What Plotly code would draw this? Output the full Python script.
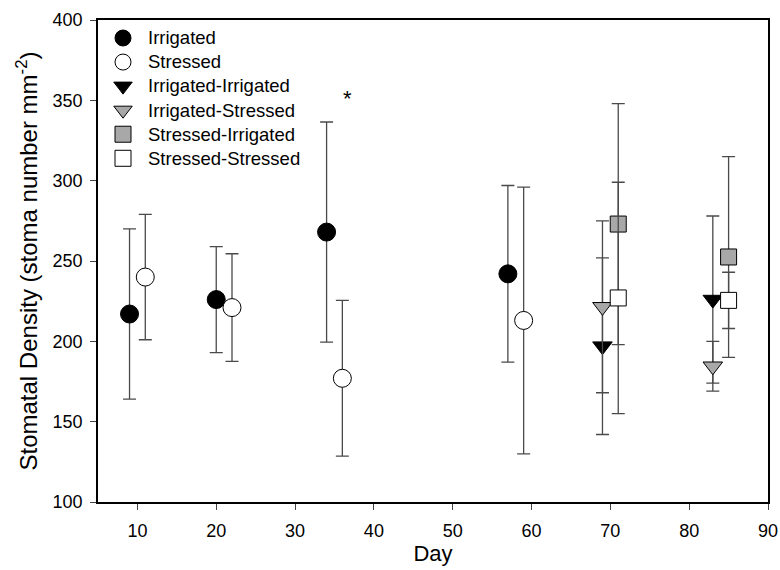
import plotly.graph_objects as go

series_names = ["Irrigated", "Stressed", "Irrigated-Irrigated", "Irrigated-Stressed",
                "Stressed-Irrigated", "Stressed-Stressed"]
irr_day = [9, 20, 34, 57]
irr_val = [217, 226, 268, 242]
irr_err = [53, 33, 68.5, 55]
str_day = [11, 22, 36, 59]
str_val = [240, 221, 177, 213]
str_err = [39, 33.5, 48.5, 83]
ii_day = [69, 83]
ii_val = [197, 226]
ii_err = [55, 52]
is_day = [69, 83]
is_val = [221.5, 184.5]
is_err = [53.5, 15.5]
si_day = [71, 85]
si_val = [273, 252.5]
si_err = [75, 62.5]
ss_day = [71, 85]
ss_val = [227, 225.5]
ss_err = [72, 17.5]

x_ticks = [10, 20, 30, 40, 50, 60, 70, 80, 90]
y_ticks = [100, 150, 200, 250, 300, 350, 400]

specs = [
    (irr_day, irr_val, irr_err, "circle", "black", 18),
    (str_day, str_val, str_err, "circle", "white", 18),
    (ii_day, ii_val, ii_err, "triangle-down", "black", 17),
    (is_day, is_val, is_err, "triangle-down", "#a8a8a8", 17),
    (si_day, si_val, si_err, "square", "#a8a8a8", 16),
    (ss_day, ss_val, ss_err, "square", "white", 16),
]

FONT = "Liberation Sans, Arial, Helvetica, sans-serif"

fig = go.Figure()
for name, (xs, ys, es, sym, col, sz) in zip(series_names, specs):
    fig.add_trace(go.Scatter(
        x=xs, y=ys, mode="markers",
        name=f"<span style='font-size:18.5px'>{name}</span>",
        marker=dict(symbol=sym, color=col, size=sz, line=dict(color="black", width=1)),
        error_y=dict(type="data", array=es, visible=True, color="#4a4a4a",
                     thickness=1.3, width=6.5),
    ))

fig.add_annotation(x=36.7, y=351, text="*", showarrow=False,
                   font=dict(size=22, color="black", family=FONT))

fig.update_layout(
    width=780, height=570,
    margin=dict(l=98, r=12, t=20, b=68),
    plot_bgcolor="white", paper_bgcolor="white",
    font=dict(family=FONT, color="black", size=18),
    showlegend=True,
    legend=dict(x=0.0, y=0.998, xanchor="left", yanchor="top", itemwidth=40,
                bgcolor="rgba(0,0,0,0)", font=dict(size=16.2), itemsizing="trace"),
    xaxis=dict(range=[5, 90], tickvals=x_ticks, ticks="outside", ticklen=6,
               showline=True, linecolor="black", linewidth=1.5, mirror=True,
               showgrid=False, zeroline=False, tickfont=dict(size=18),
               ticklabelstandoff=6, automargin=False,
               title=dict(text="Day", font=dict(size=22), standoff=5)),
    yaxis=dict(range=[100, 400], tickvals=y_ticks, ticks="outside", ticklen=6,
               showline=True, linecolor="black", linewidth=1.5, mirror=True,
               showgrid=False, zeroline=False, tickfont=dict(size=18),
               ticklabelstandoff=4, automargin=False,
               title=dict(text="Stomatal Density (stoma number mm<sup>-2</sup>)",
                          font=dict(size=24), standoff=8)),
)

fig.write_html("out.html")
